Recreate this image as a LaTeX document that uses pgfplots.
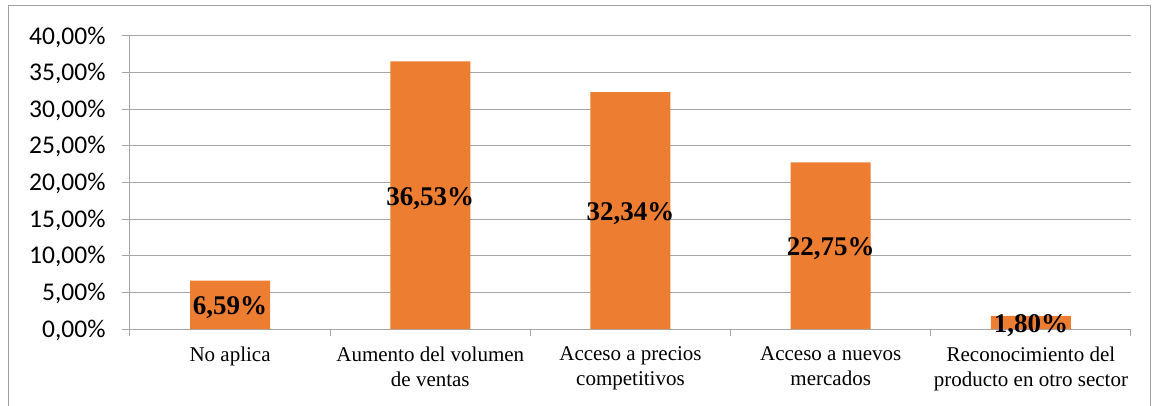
\documentclass[border=0pt]{standalone}
\usepackage{fontspec}
\setmainfont{Liberation Serif}
\newfontfamily\carlito{Carlito}
\usepackage{pgfplots}
\pgfplotsset{compat=1.18}
\definecolor{barc}{HTML}{ED7D31}
\definecolor{gridc}{HTML}{A6A6A6}
\definecolor{framec}{HTML}{A0A0A0}
\begin{document}
\begin{tikzpicture}[x=1pt,y=1pt]
\useasboundingbox (0,0) rectangle (1160,405);
\draw[framec, line width=1pt] (8.5,-5) rectangle (1150.5,399);
\begin{axis}[
  at={(130pt,76pt)}, anchor=south west,
  scale only axis, width=1001pt, height=293pt,
  xmin=-0.5, xmax=4.5, ymin=0, ymax=40,
  axis x line*=bottom, axis y line*=left,
  axis line style={gridc, line width=1pt, -},
  ymajorgrids, grid style={gridc, line width=1pt},
  ytick={0,5,...,40},
  yticklabels={{0,00\%},{5,00\%},{10,00\%},{15,00\%},{20,00\%},{25,00\%},{30,00\%},{35,00\%},{40,00\%}},
  yticklabel style={font=\carlito\fontsize{25.5}{27}\selectfont, text=black, xshift=-13pt, yshift=-1pt},
  xtick={0,1,2,3,4},
  xticklabels={{No aplica},{Aumento del volumen\\de ventas},{Acceso a precios\\competitivos},{Acceso a nuevos\\mercados},{Reconocimiento del\\producto en otro sector}},
  xticklabel style={font=\fontsize{21}{25}\selectfont, align=center, text=black, yshift=-6pt},
  minor xtick={-0.5,0.5,...,4.5},
  tick align=outside,
  major tick length=8pt, minor tick length=7pt,
  x tick style={draw=none},
  minor x tick style={draw=gridc, line width=1pt},
  y tick style={draw=gridc, line width=1pt},
  ybar, bar width=80pt,
  nodes near coords,
  point meta=explicit symbolic,
  visualization depends on=rawy\as\rawy,
  every node near coord/.append style={anchor=center, shift={(axis direction cs:0,-\rawy/2)}, yshift=-3pt, font=\bfseries\fontsize{27}{29}\selectfont, text=black},
]
\addplot[fill=barc, draw=none] coordinates {
 (0,6.59) [{6,59\%}]
 (1,36.53) [{36,53\%}]
 (2,32.34) [{32,34\%}]
 (3,22.75) [{22,75\%}]
 (4,1.80) [{1,80\%}]
};
\end{axis}
\end{tikzpicture}
\end{document}
